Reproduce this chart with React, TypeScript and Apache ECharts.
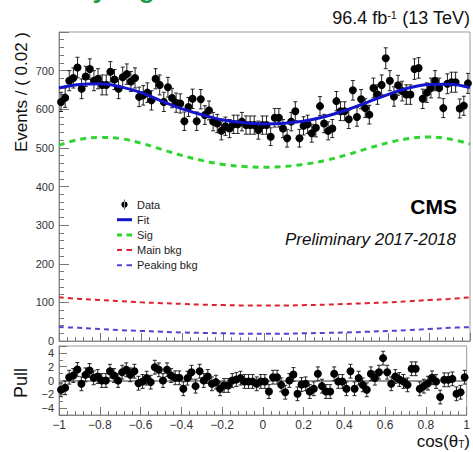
import React, { useEffect, useRef } from "react";
import * as echarts from "echarts";

// 100 bins of width 0.02 on cos(theta_T) in [-1, 1]
const binWidth = 0.02;
const binCenters: number[] = Array.from({ length: 100 }, (_, i) => Math.round((-1 + binWidth * (i + 0.5)) * 1000) / 1000);

const dataCounts: number[] = [
  619, 630, 674, 681, 708, 653, 685, 704, 674, 679,
  663, 663, 697, 677, 653, 683, 691, 672, 681, 632,
  636, 643, 623, 679, 663, 619, 657, 629, 617, 615,
  569, 606, 627, 569, 626, 585, 597, 568, 563, 544,
  556, 550, 561, 561, 568, 559, 559, 559, 546, 559,
  559, 529, 578, 578, 550, 525, 568, 595, 525, 557,
  561, 538, 552, 608, 563, 544, 550, 621, 595, 595,
  574, 649, 580, 626, 603, 586, 655, 638, 663, 732,
  674, 633, 662, 647, 638, 638, 704, 707, 627, 643,
  655, 674, 655, 603, 666, 670, 670, 602, 609, 667,
];

const pullValues: number[] = [
  -1.35, -1.06, 0.48, 0.72, 1.6, -0.48, 0.82, 1.45, 0.39, 0.58,
  0, 0, 1.35, 0.72, 0, 1.2, 1.55, 0.82, 1.35, -0.39,
  -0.14, 0.34, -0.24, 1.93, 1.55, 0, 1.55, 0.72, 0.39, 0.39,
  -1.2, 0.34, 1.2, -0.82, 1.35, 0, 0.58, -0.48, -0.24, -1.2,
  -0.72, -0.72, 0, 0.14, 0.34, -0.14, -0.14, -0.14, -0.48, -0.14,
  -0.14, -1.6, 0.48, 0.48, -0.63, -1.7, 0, 0.87, -1.93, -0.58,
  -0.48, -1.6, -1.2, 0.97, -0.82, -1.6, -1.6, 0.97, -0.14, -0.14,
  -1.2, 1.35, -1.2, 0.34, -0.63, -1.35, 0.97, 0.34, 1.2, 3.24,
  1.2, -0.48, 0.58, 0.14, -0.14, -0.63, 1.7, 1.7, -1.2, -0.82,
  -0.39, 0.39, -0.14, -2.4, 0.1, 0.1, 0.24, -1.93, -1.7, 0.48,
];

const curveX: number[] = [-1, -0.9, -0.8, -0.7, -0.6, -0.5, -0.4, -0.3, -0.2, -0.1, 0, 0.1, 0.2, 0.3, 0.4, 0.5, 0.6, 0.7, 0.8, 0.9, 1];
const fitCurve: number[] = [655, 664, 666, 658, 643, 621, 601, 585, 572, 565, 562, 564, 570, 582, 598, 618, 638, 655, 664, 665, 656];
const sigCurve: number[] = [507, 522, 527, 524, 512, 496, 480, 467, 457, 452, 450, 452, 458, 468, 482, 498, 513, 524, 528, 523, 510];
const mainBkgCurve: number[] = [113, 109, 106, 103, 100, 98, 96, 94, 93, 92, 92, 92, 93, 94, 96, 98, 100, 103, 106, 109, 113];
const peakBkgCurve: number[] = [36, 34, 31, 28, 26, 24, 22, 21, 20, 19, 19, 19, 20, 21, 22, 24, 26, 28, 31, 34, 36];

const yTicksMain: number[] = [0, 100, 200, 300, 400, 500, 600, 700];
const yTicksPull: number[] = [-4, -2, 0, 2, 4];

const FONT = '"Liberation Sans", Arial, Helvetica, sans-serif';

const pts = (ys: number[]) => curveX.map((x, i) => [x, ys[i]]);
const minus = (s: string) => s.replace("-", "\u2212");

function errorBarItem(err: (v: number) => number) {
  return (params: any, api: any) => {
    const x = api.value(0);
    const y = api.value(1);
    const e = err(y);
    const p = api.coord([x, y]);
    const hi = api.coord([x, y + e]);
    const lo = api.coord([x, y - e]);
    const cap = 2;
    const st = { stroke: "#222", lineWidth: 1 };
    return {
      type: "group",
      children: [
        { type: "line", shape: { x1: p[0], y1: hi[1], x2: p[0], y2: lo[1] }, style: st },
        { type: "line", shape: { x1: p[0] - cap, y1: hi[1], x2: p[0] + cap, y2: hi[1] }, style: st },
        { type: "line", shape: { x1: p[0] - cap, y1: lo[1], x2: p[0] + cap, y2: lo[1] }, style: st },
        { type: "circle", shape: { cx: p[0], cy: p[1], r: 4 }, style: { fill: "#000" } },
      ],
    };
  };
}

const axisLineStyle = { color: "#888", width: 1 };
const tickStyle = { color: "#777", width: 1 };

const solidIcon = "path://M0,0 L15,0 L15,3 L0,3 Z";
const thickDashIcon = "path://M0,0 L5,0 L5,3 L0,3 Z M9.5,0 L15,0 L15,3 L9.5,3 Z";
const thinDashIcon = "path://M0,0 L5,0 L5,2 L0,2 Z M9.5,0 L15,0 L15,2 L9.5,2 Z";

export default function App() {
  const ref = useRef<HTMLDivElement>(null);
  useEffect(() => {
    if (!ref.current) return;
    const chart = echarts.init(ref.current, undefined, { renderer: "svg" });
    const xAxisBase = {
      type: "value",
      min: -1,
      max: 1,
      interval: 0.2,
      axisLine: { show: true, onZero: false, lineStyle: axisLineStyle },
      axisTick: { show: true, inside: true, length: 8, lineStyle: tickStyle },
      minorTick: { show: true, splitNumber: 5, length: 4, lineStyle: tickStyle },
      splitLine: { show: false },
    };
    const option: any = {
      animation: false,
      backgroundColor: "#fff",
      textStyle: { fontFamily: FONT },
      grid: [
        { left: 59, top: 32, width: 411, height: 309, show: true, borderColor: "#999", borderWidth: 1, backgroundColor: "transparent" },
        { left: 59, top: 346, width: 411, height: 69, show: true, borderColor: "#999", borderWidth: 1, backgroundColor: "transparent" },
      ],
      xAxis: [
        { ...xAxisBase, gridIndex: 0, axisLabel: { show: false } },
        {
          ...xAxisBase,
          gridIndex: 1,
          axisLabel: {
            show: true,
            margin: 4,
            color: "#333",
            fontSize: 12,
            fontFamily: FONT,
            formatter: (v: number) => minus(String(Number(v.toFixed(1)))),
          },
        },
      ],
      yAxis: [
        {
          type: "value",
          gridIndex: 0,
          min: 0,
          max: 800,
          interval: 100,
          axisLine: { show: true, onZero: false, lineStyle: axisLineStyle },
          axisTick: { show: true, inside: true, length: 10, lineStyle: tickStyle },
          minorTick: { show: true, splitNumber: 5, length: 5, lineStyle: tickStyle },
          splitLine: { show: false },
          axisLabel: {
            margin: 5,
            color: "#333",
            fontSize: 11,
            fontFamily: FONT,
            formatter: (v: number) => (yTicksMain.includes(v) ? String(v) : ""),
          },
        },
        {
          type: "value",
          gridIndex: 1,
          min: -5,
          max: 5,
          splitNumber: 5,
          axisLine: { show: true, onZero: false, lineStyle: axisLineStyle },
          axisTick: { show: true, inside: true, length: 8, lineStyle: tickStyle },
          minorTick: { show: true, splitNumber: 2, length: 4, lineStyle: tickStyle },
          splitLine: { show: false },
          axisLabel: {
            margin: 5,
            color: "#333",
            fontSize: 11,
            fontFamily: FONT,
            formatter: (v: number) => (yTicksPull.includes(v) ? minus(String(v)) : ""),
          },
        },
      ],
      legend: {
        orient: "vertical",
        left: 112,
        top: 194,
        itemWidth: 15,
        itemHeight: 10,
        itemGap: 4.2,
        textStyle: { fontSize: 11, color: "#222", fontFamily: FONT, lineHeight: 10 },
        data: [
          {
            name: "Data",
            icon: "path://M4.6,0 L5.4,0 L5.4,13 L4.6,13 Z M1,6.5 A4,4 0 1 0 9,6.5 A4,4 0 1 0 1,6.5 Z",
            itemStyle: { color: "#000" },
          },
          { name: "Fit", icon: solidIcon, itemStyle: { color: "#1414cc" } },
          { name: "Sig", icon: thickDashIcon, itemStyle: { color: "#2fd52f" } },
          { name: "Main bkg", icon: thinDashIcon, itemStyle: { color: "#e0202e" } },
          { name: "Peaking bkg", icon: thinDashIcon, itemStyle: { color: "#5a3fd0" } },
        ],
      },
      series: [
        {
          name: "Data",
          type: "custom",
          xAxisIndex: 0,
          yAxisIndex: 0,
          z: 2,
          itemStyle: { color: "#000" },
          encode: { x: 0, y: 1 },
          renderItem: errorBarItem((v) => Math.sqrt(v)),
          data: binCenters.map((x, i) => [x, dataCounts[i]]),
        },
        {
          name: "Sig",
          type: "line",
          xAxisIndex: 0,
          yAxisIndex: 0,
          smooth: 0.4,
          symbol: "none",
          z: 3,
          lineStyle: { color: "#2fd52f", width: 3, type: [6, 5] },
          itemStyle: { color: "#2fd52f" },
          data: pts(sigCurve),
        },
        {
          name: "Main bkg",
          type: "line",
          xAxisIndex: 0,
          yAxisIndex: 0,
          smooth: 0.4,
          symbol: "none",
          z: 3,
          lineStyle: { color: "#e0202e", width: 2, type: [5, 4] },
          itemStyle: { color: "#e0202e" },
          data: pts(mainBkgCurve),
        },
        {
          name: "Peaking bkg",
          type: "line",
          xAxisIndex: 0,
          yAxisIndex: 0,
          smooth: 0.4,
          symbol: "none",
          z: 3,
          lineStyle: { color: "#5a3fd0", width: 2, type: [5, 4] },
          itemStyle: { color: "#5a3fd0" },
          data: pts(peakBkgCurve),
        },
        {
          name: "Fit",
          type: "line",
          xAxisIndex: 0,
          yAxisIndex: 0,
          smooth: 0.4,
          symbol: "none",
          z: 4,
          lineStyle: { color: "#1414cc", width: 3 },
          itemStyle: { color: "#1414cc" },
          data: pts(fitCurve),
        },
        {
          name: "Pull",
          type: "custom",
          xAxisIndex: 1,
          yAxisIndex: 1,
          z: 3,
          encode: { x: 0, y: 1 },
          renderItem: errorBarItem(() => 1),
          data: binCenters.map((x, i) => [x, pullValues[i]]),
          markLine: {
            silent: true,
            symbol: "none",
            z: 1,
            label: { show: false },
            lineStyle: { color: "#999", width: 2, type: "solid" },
            data: [{ yAxis: 0 }],
          },
        },
      ],
      graphic: [
        {
          type: "text",
          x: 10,
          y: -11,
          silent: true,
          style: { text: "Primary region", fill: "#1f9a45", font: `bold 26px ${FONT}`, verticalAlign: "middle" },
        },
        {
          type: "text",
          x: 470,
          y: 18,
          style: {
            text: "{a|96.4 fb}{s|-1}{a| (13 TeV)}",
            align: "right",
            verticalAlign: "middle",
            rich: {
              a: { fontSize: 18, fontFamily: FONT, fill: "#111" },
              s: { fontSize: 11, fontFamily: FONT, fill: "#111", verticalAlign: "top" },
            },
          },
        },
        {
          type: "text",
          x: 21,
          y: 32,
          rotation: Math.PI / 2,
          style: { text: "Events / ( 0.02 )", font: `17px ${FONT}`, fill: "#111", align: "right", verticalAlign: "middle" },
        },
        {
          type: "text",
          x: 21,
          y: 383,
          rotation: Math.PI / 2,
          style: { text: "Pull", font: `18px ${FONT}`, fill: "#111", align: "center", verticalAlign: "middle" },
        },
        {
          type: "text",
          x: 470,
          y: 441,
          style: {
            text: "{a|cos(θ}{t|T}{a|)}",
            align: "right",
            verticalAlign: "middle",
            rich: {
              a: { fontSize: 17, fontFamily: FONT, fill: "#111" },
              t: { fontSize: 10, fontFamily: FONT, fill: "#111", verticalAlign: "bottom" },
            },
          },
        },
        {
          type: "text",
          x: 457,
          y: 206,
          style: { text: "CMS", font: `bold 21px ${FONT}`, fill: "#000", align: "right", verticalAlign: "middle" },
        },
        {
          type: "text",
          x: 456,
          y: 239,
          style: { text: "Preliminary 2017-2018", font: `italic 17px ${FONT}`, fill: "#111", align: "right", verticalAlign: "middle" },
        },
      ],
    };
    chart.setOption(option);
    return () => chart.dispose();
  }, []);
  return (
    <div
      ref={ref}
      style={{ position: "fixed", left: 0, top: 0, width: 473, height: 452, background: "#fff" }}
    />
  );
}
